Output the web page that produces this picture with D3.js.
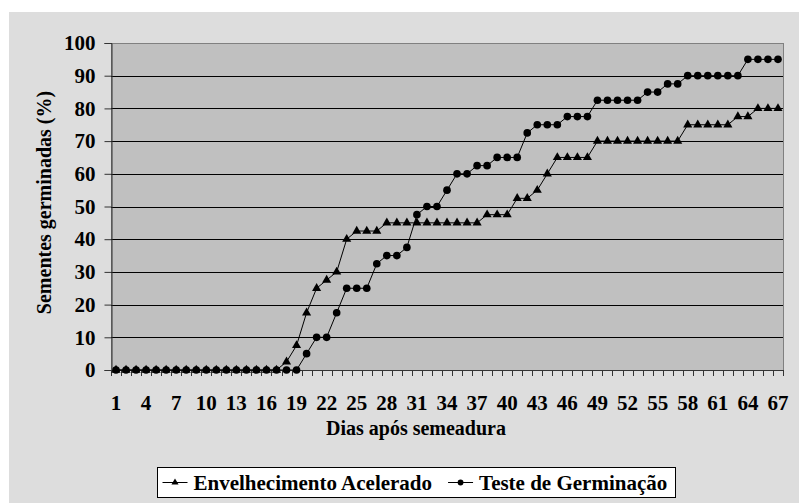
<!DOCTYPE html>
<html>
<head>
<meta charset="utf-8">
<script src="https://cdn.jsdelivr.net/npm/d3@7"></script>
<style>
  body { margin: 0; background: #fff; }
  svg text { font-family: "Liberation Serif", "Times New Roman", Times, serif; font-weight: bold; fill: #000; }
</style>
</head>
<body>
<script>
const days = d3.range(1, 68);
const envelhecimento = [
  0, 0, 0, 0, 0, 0, 0, 0, 0, 0, 0, 0, 0, 0, 0, 0, 0, 2.5, 7.5, 17.5,
  25, 27.5, 30, 40, 42.5, 42.5, 42.5, 45, 45, 45, 45, 45, 45, 45, 45, 45, 45, 47.5, 47.5, 47.5,
  52.5, 52.5, 55, 60, 65, 65, 65, 65, 70, 70, 70, 70, 70, 70, 70, 70, 70, 75, 75, 75,
  75, 75, 77.5, 77.5, 80, 80, 80
];
const germinacao = [
  0, 0, 0, 0, 0, 0, 0, 0, 0, 0, 0, 0, 0, 0, 0, 0, 0, 0, 0, 5,
  10, 10, 17.5, 25, 25, 25, 32.5, 35, 35, 37.5, 47.5, 50, 50, 55, 60, 60, 62.5, 62.5, 65, 65,
  65, 72.5, 75, 75, 75, 77.5, 77.5, 77.5, 82.5, 82.5, 82.5, 82.5, 82.5, 85, 85, 87.5, 87.5, 90, 90, 90,
  90, 90, 90, 95, 95, 95, 95
];
const yTicks = [0, 10, 20, 30, 40, 50, 60, 70, 80, 90, 100];
const xLabels = days.filter(d => (d - 1) % 3 === 0);
const seriesNames = ['Envelhecimento Acelerado', 'Teste de Germinação'];

const svgWidth = 799;
const svgHeight = 503;
const plot = { left: 111, right: 783, top: 43, bottom: 370 };
const chartCenter = 416; // chart area runs past the right edge of the picture

const svg = d3.select('body')
  .append('svg')
  .attr('width', svgWidth)
  .attr('height', svgHeight);

// chart area
svg.append('rect')
  .attr('x', 9).attr('y', 12)
  .attr('width', svgWidth - 9).attr('height', svgHeight - 12)
  .attr('fill', '#dddddd');

const x = d3.scaleBand()
  .domain(days)
  .range([plot.left, plot.right])
  .padding(0);

const y = d3.scaleLinear()
  .domain([0, 100])
  .range([plot.bottom, plot.top]);

const cx = d => x(d) + x.bandwidth() / 2;

// plot area
svg.append('rect')
  .attr('x', plot.left + 0.5).attr('y', plot.top + 0.5)
  .attr('width', plot.right - plot.left).attr('height', plot.bottom - plot.top)
  .attr('fill', '#c0c0c0')
  .attr('stroke', '#808080');

// gridlines
svg.append('g')
  .selectAll('line')
  .data(yTicks.filter(t => t > 0 && t < 100))
  .join('line')
  .attr('x1', plot.left).attr('x2', plot.right)
  .attr('y1', d => Math.round(y(d)) + 0.5).attr('y2', d => Math.round(y(d)) + 0.5)
  .attr('stroke', '#000')
  .attr('stroke-width', 1);

// y axis
const yAxis = svg.append('g')
  .attr('transform', `translate(${plot.left + 0.5},0)`)
  .call(d3.axisLeft(y).tickValues(yTicks).tickSize(7).tickPadding(9));
yAxis.attr('font-family', null).attr('font-size', null);
yAxis.select('.domain').attr('stroke', '#333');
yAxis.selectAll('.tick line').attr('stroke', '#333');
yAxis.selectAll('text').style('font-size', '21px');

// x axis: ticks between categories
const xAxis = svg.append('g');
xAxis.append('line')
  .attr('x1', plot.left).attr('x2', plot.right + 1)
  .attr('y1', plot.bottom + 0.5).attr('y2', plot.bottom + 0.5)
  .attr('stroke', '#333');
xAxis.selectAll('.xt')
  .data(days.concat([null]))
  .join('line')
  .attr('class', 'xt')
  .attr('x1', d => Math.round(d === null ? plot.right : x(d)) + 0.5)
  .attr('x2', d => Math.round(d === null ? plot.right : x(d)) + 0.5)
  .attr('y1', plot.bottom).attr('y2', plot.bottom + 6)
  .attr('stroke', '#333');
xAxis.selectAll('.xl')
  .data(xLabels)
  .join('text')
  .attr('class', 'xl')
  .attr('x', d => cx(d))
  .attr('y', 410)
  .attr('text-anchor', 'middle')
  .style('font-size', '21px')
  .text(d => d);

// axis titles
svg.append('text')
  .attr('x', chartCenter)
  .attr('y', 435)
  .attr('text-anchor', 'middle')
  .style('font-size', '20px')
  .text('Dias após semeadura');

svg.append('text')
  .attr('transform', `translate(51,${(plot.top + plot.bottom) / 2 - 4}) rotate(-90)`)
  .attr('text-anchor', 'middle')
  .style('font-size', '20px')
  .text('Sementes germinadas (%)');

// series
const line = d3.line()
  .x((d, i) => cx(days[i]))
  .y(d => y(d));

[envelhecimento, germinacao].forEach(series => {
  svg.append('path')
    .datum(series)
    .attr('d', line)
    .attr('fill', 'none')
    .attr('stroke', '#000')
    .attr('stroke-width', 1);
});

const tri = d3.symbol().type(d3.symbolTriangle).size(36);
const circ = d3.symbol().type(d3.symbolCircle).size(46);

svg.append('g')
  .selectAll('path')
  .data(envelhecimento)
  .join('path')
  .attr('d', tri)
  .attr('transform', (d, i) => `translate(${cx(days[i])},${y(d)})`)
  .attr('fill', '#000');

svg.append('g')
  .selectAll('path')
  .data(germinacao)
  .join('path')
  .attr('d', circ)
  .attr('transform', (d, i) => `translate(${cx(days[i])},${y(d)})`)
  .attr('fill', '#000');

// legend
const legend = svg.append('g');
const box = legend.append('rect')
  .attr('y', 467.5)
  .attr('height', 30)
  .attr('fill', '#fff')
  .attr('stroke', '#000');
const items = legend.append('g');

let lx = 5;
seriesNames.forEach((name, i) => {
  if (i > 0) lx += 16;
  items.append('line')
    .attr('x1', lx).attr('x2', lx + 25)
    .attr('y1', 482.5).attr('y2', 482.5)
    .attr('stroke', '#000');
  items.append('path')
    .attr('d', d3.symbol().type(i === 0 ? d3.symbolTriangle : d3.symbolCircle).size(i === 0 ? 22 : 26))
    .attr('transform', `translate(${lx + 12.5},482.5)`)
    .attr('fill', '#000');
  const t = items.append('text')
    .attr('x', lx + 31)
    .attr('y', 490)
    .style('font-size', '21px')
    .text(name);
  lx = lx + 31 + t.node().getComputedTextLength();
});
const boxW = Math.round(lx + 8);
const boxX = Math.round(chartCenter - boxW / 2) + 0.5;
box.attr('x', boxX).attr('width', boxW);
items.attr('transform', `translate(${boxX},0)`);
</script>
</body>
</html>
